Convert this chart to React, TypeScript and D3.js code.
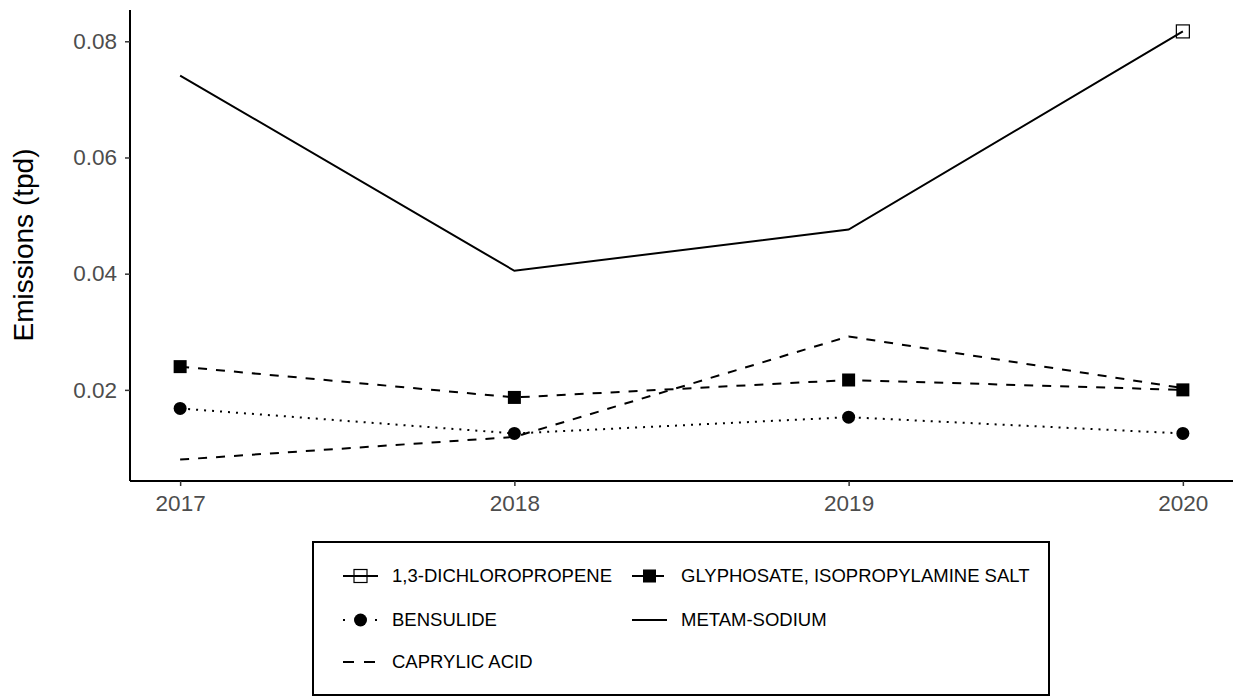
import React, { useRef, useEffect } from 'react';
import * as d3 from 'd3';

// emissions by year, tons per day
const years = [2017, 2018, 2019, 2020];
const dichloropropene = [null, null, null, 0.0817];
const bensulide = [0.0168, 0.0125, 0.0153, 0.0125];
const caprylicAcid = [0.0080, 0.0119, 0.0292, 0.0203];
const glyphosate = [0.0240, 0.0187, 0.0217, 0.0200];
const metamSodium = [0.0741, 0.0405, 0.0476, 0.0817];
const yTicks = [0.02, 0.04, 0.06, 0.08];

type Series = { name: string; values: (number | null)[]; dash: string; shape: 'none' | 'openSquare' | 'square' | 'circle' };

const series: Series[] = [
  { name: '1,3-DICHLOROPROPENE', values: dichloropropene, dash: '', shape: 'openSquare' },
  { name: 'BENSULIDE', values: bensulide, dash: '2,6', shape: 'circle' },
  { name: 'CAPRYLIC ACID', values: caprylicAcid, dash: '9,9', shape: 'none' },
  { name: 'GLYPHOSATE, ISOPROPYLAMINE SALT', values: glyphosate, dash: '9,9', shape: 'square' },
  { name: 'METAM-SODIUM', values: metamSodium, dash: '', shape: 'none' },
];

const FONT = '"Liberation Sans", Arial, sans-serif';

export default function App() {
  const svgRef = useRef<SVGSVGElement | null>(null);

  useEffect(() => {
    if (!svgRef.current) return;
    const svg = d3.select(svgRef.current);
    svg.selectAll('*').remove();

    const margin = { top: 10, right: 3, bottom: 216, left: 130 };
    const width = 1236;
    const height = 697;
    const innerW = width - margin.left - margin.right;
    const innerH = height - margin.top - margin.bottom;

    const allVals = series.flatMap(s => s.values.filter((v): v is number => v != null));
    const [vmin, vmax] = d3.extent(allVals) as [number, number];
    const padY = (vmax - vmin) * 0.05;
    const padX = (years[years.length - 1] - years[0]) * 0.05;

    const x = d3.scaleLinear()
      .domain([years[0] - padX, years[years.length - 1] + padX])
      .range([0, innerW]);
    const y = d3.scaleLinear()
      .domain([vmin - padY, vmax + padY])
      .range([innerH, 0]);

    const g = svg.append('g').attr('transform', `translate(${margin.left},${margin.top})`);

    // axes
    const xAxis = g.append('g')
      .attr('transform', `translate(0,${innerH})`)
      .call(d3.axisBottom(x).tickValues(years).tickFormat(d3.format('d')).tickSize(5).tickPadding(9));
    const yAxis = g.append('g')
      .call(d3.axisLeft(y).tickValues(yTicks).tickFormat(d3.format('.2f')).tickSize(5).tickPadding(8));

    [xAxis, yAxis].forEach(ax => {
      ax.attr('font-size', null).attr('font-family', null);
      ax.select('.domain').attr('stroke', '#000').attr('stroke-width', 2);
      ax.selectAll('.tick line').attr('stroke', '#333').attr('stroke-width', 1.5);
      ax.selectAll('.tick text')
        .attr('fill', '#4d4d4d')
        .style('font-size', '22.5px')
        .style('font-family', FONT);
    });
    xAxis.select('.domain').attr('d', `M0,0H${innerW}`);
    yAxis.select('.domain').attr('d', `M0,${innerH}V0`);

    svg.append('text')
      .attr('transform', 'translate(33,245) rotate(-90)')
      .attr('text-anchor', 'middle')
      .style('font-size', '28px')
      .style('font-family', FONT)
      .text('Emissions (tpd)');

    const line = d3.line<number | null>()
      .defined(d => d != null)
      .x((_, i) => x(years[i]))
      .y(d => y(d as number));

    const drawShape = (sel: d3.Selection<SVGGElement, unknown, null, undefined>, shape: Series['shape'], cx: number, cy: number) => {
      if (shape === 'square') {
        sel.append('rect').attr('x', cx - 6.5).attr('y', cy - 6.5).attr('width', 13).attr('height', 13).attr('fill', '#000');
      } else if (shape === 'openSquare') {
        sel.append('rect').attr('x', cx - 6.5).attr('y', cy - 6.5).attr('width', 13).attr('height', 13)
          .attr('fill', 'none').attr('stroke', '#000').attr('stroke-width', 1.2);
      } else if (shape === 'circle') {
        sel.append('circle').attr('cx', cx).attr('cy', cy).attr('r', 6.5).attr('fill', '#000');
      }
    };

    series.forEach(s => {
      g.append('path')
        .datum(s.values)
        .attr('d', line)
        .attr('fill', 'none')
        .attr('stroke', '#000')
        .attr('stroke-width', 2)
        .attr('stroke-dasharray', s.dash || null);
    });
    series.forEach(s => {
      s.values.forEach((v, i) => {
        if (v == null) return;
        drawShape(g, s.shape, x(years[i]), y(v));
      });
    });

    // legend
    const legend = svg.append('g').attr('transform', 'translate(313,542)');
    legend.append('rect')
      .attr('width', 736).attr('height', 153)
      .attr('fill', '#fff').attr('stroke', '#000').attr('stroke-width', 2);

    const colX = [30, 319];
    const rowY = [34, 78, 120];
    const keyW = 35;
    series.forEach((s, i) => {
      const col = Math.floor(i / 3);
      const row = i % 3;
      const item = legend.append('g').attr('transform', `translate(${colX[col]},${rowY[row]})`);
      item.append('line')
        .attr('x1', 0).attr('x2', keyW).attr('y1', 0).attr('y2', 0)
        .attr('stroke', '#000').attr('stroke-width', 2)
        .attr('stroke-dasharray', s.dash ? (s.dash === '9,9' ? '11,10' : '2,14') : null);
      drawShape(item, s.shape, keyW / 2, 0);
      item.append('text')
        .attr('x', 49)
        .attr('y', 0)
        .attr('dy', '0.35em')
        .style('font-size', '18.5px')
        .style('font-family', FONT)
        .text(s.name);
    });
  }, []);

  return (
    <div style={{ position: 'absolute', left: 0, top: 0 }}>
      <svg ref={svgRef} width={1236} height={697} style={{ display: 'block', background: '#fff' }} />
    </div>
  );
}
